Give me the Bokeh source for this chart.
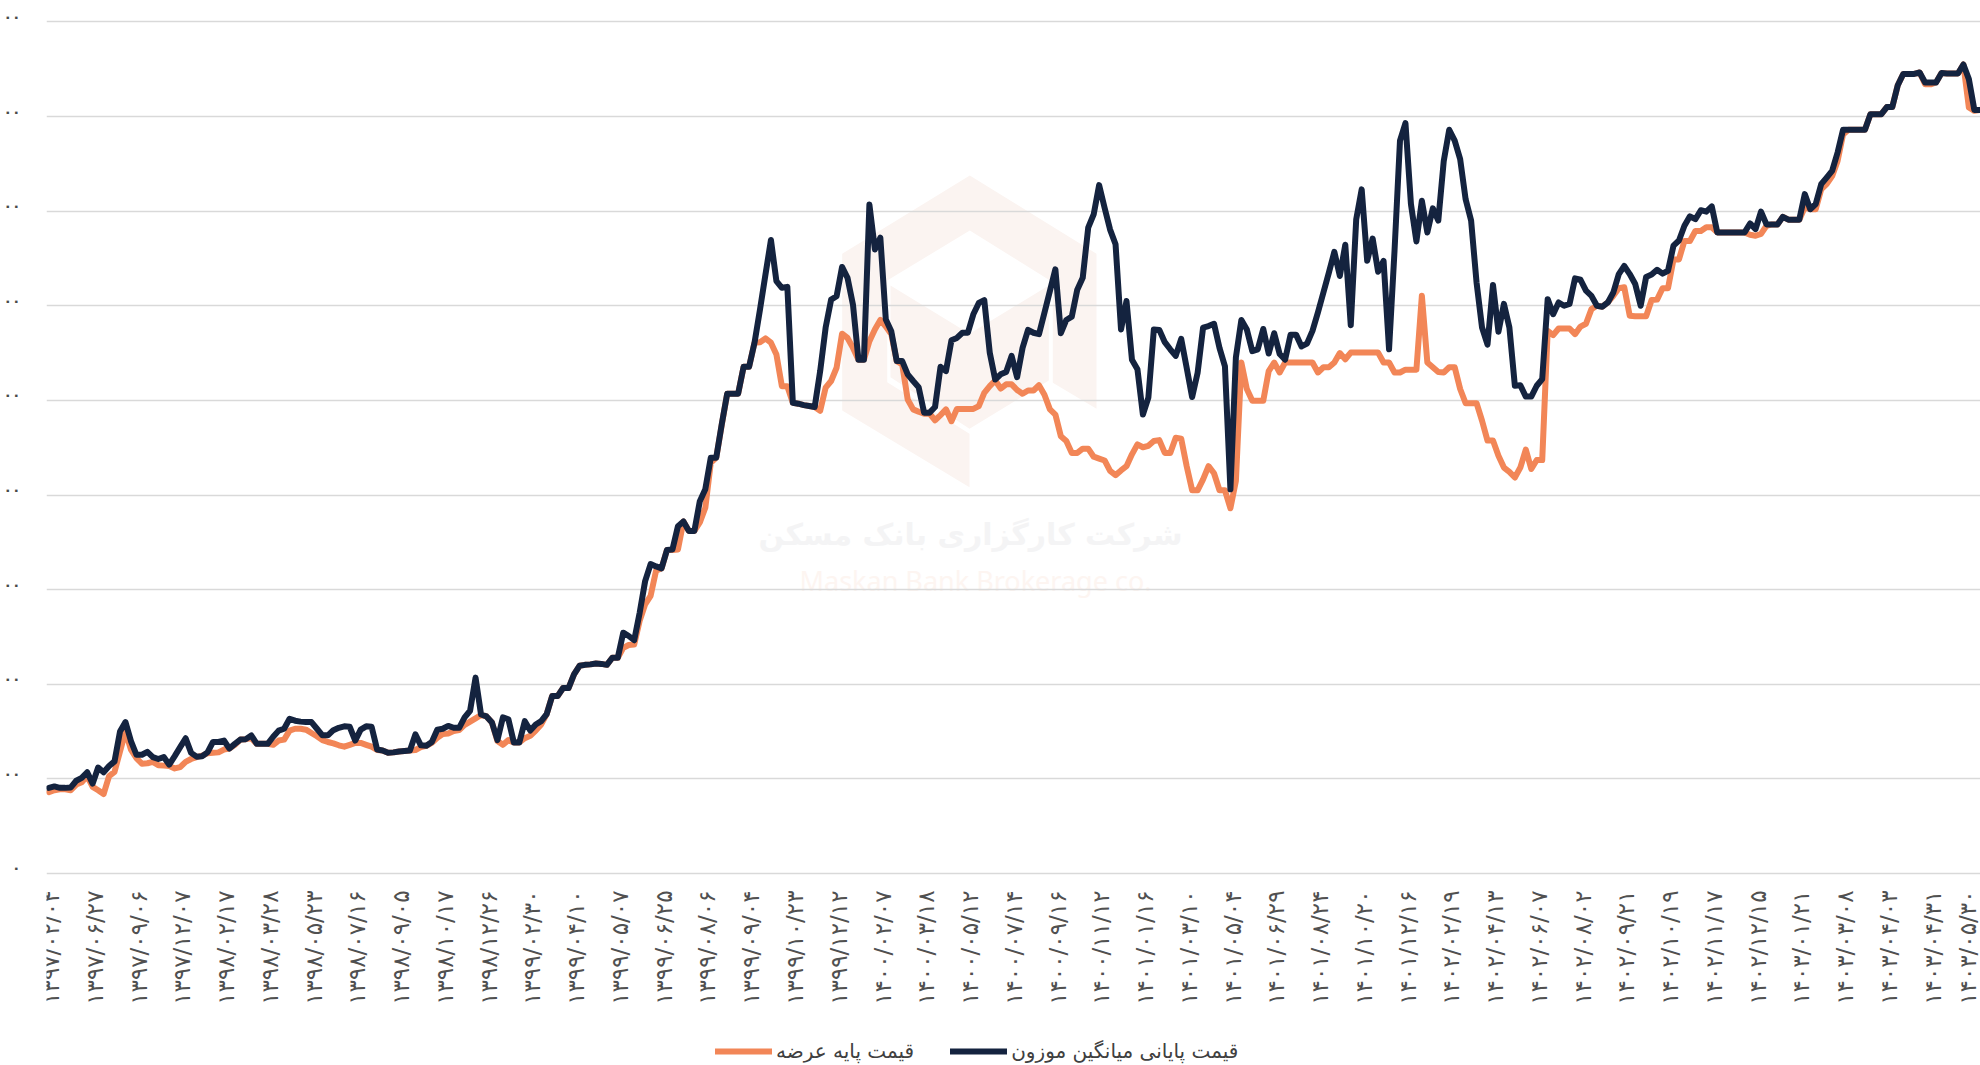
import math
from bokeh.plotting import figure
from bokeh.models import Range1d, FixedTicker, Legend, LegendItem
from bokeh.core.properties import value
from bokeh.embed import file_html
from bokeh.resources import INLINE

date_labels = ["۱۳۹۷/۰۲/۰۴","۱۳۹۷/۰۶/۲۷","۱۳۹۷/۰۹/۰۶","۱۳۹۷/۱۲/۰۷","۱۳۹۸/۰۲/۱۷","۱۳۹۸/۰۳/۲۸","۱۳۹۸/۰۵/۲۳","۱۳۹۸/۰۷/۱۶","۱۳۹۸/۰۹/۰۵","۱۳۹۸/۱۰/۱۷","۱۳۹۸/۱۲/۲۶","۱۳۹۹/۰۲/۳۰","۱۳۹۹/۰۴/۱۰","۱۳۹۹/۰۵/۰۷","۱۳۹۹/۰۶/۲۵","۱۳۹۹/۰۸/۰۶","۱۳۹۹/۰۹/۰۴","۱۳۹۹/۱۰/۲۳","۱۳۹۹/۱۲/۱۲","۱۴۰۰/۰۲/۰۷","۱۴۰۰/۰۳/۱۸","۱۴۰۰/۰۵/۱۲","۱۴۰۰/۰۷/۱۴","۱۴۰۰/۰۹/۱۶","۱۴۰۰/۱۱/۱۲","۱۴۰۱/۰۱/۱۶","۱۴۰۱/۰۳/۱۰","۱۴۰۱/۰۵/۰۴","۱۴۰۱/۰۶/۲۹","۱۴۰۱/۰۸/۲۴","۱۴۰۱/۱۰/۲۰","۱۴۰۱/۱۲/۱۶","۱۴۰۲/۰۲/۱۹","۱۴۰۲/۰۴/۱۳","۱۴۰۲/۰۶/۰۷","۱۴۰۲/۰۸/۰۲","۱۴۰۲/۰۹/۲۱","۱۴۰۲/۱۰/۱۹","۱۴۰۲/۱۱/۱۷","۱۴۰۲/۱۲/۱۵","۱۴۰۳/۰۱/۲۱","۱۴۰۳/۰۳/۰۸","۱۴۰۳/۰۴/۰۳","۱۴۰۳/۰۴/۳۱","۱۴۰۳/۰۵/۳۰"]

close_price = [
90.5,92,90.5,90.5,91,98,101,107,95,112,
107,113.5,118.5,150,160,140,125.5,125.5,128.5,123,
121,123,115,124,133.5,143,127.5,123.5,124,128,
139,139,140.5,132,137,141.5,142,146,137,137,
137,144.5,151,153,163.5,161.5,160.5,160,160,153,
146,146,151.5,154,155.5,155,140.5,152,155.5,155,
131,130,127.5,128,129,129.5,130,147,135.5,135,
139,152,153,156,154,154,165,172,207,168,
166,159.5,141,165,163,138.5,138.5,161,151,157.5,
161,168.5,187.5,187.5,196,196,210.5,219.5,220.5,221,
222,221.5,220.5,228,228,254.5,251,246.5,275.5,309,
327,324.5,322.5,342,342.5,367,372,362,362,393.5,
406,439.5,439.5,474.5,507,507,507,535.5,535.5,561,
596,633,669.5,626,619,620,497.5,496.5,495,494,
493,531,577,606.5,610,641,629.5,601,543,543,
707,659.5,672,585.5,573,541.5,541.5,527.5,520.5,514,
487,487,493,535.5,531,563.5,566,571.5,571.5,591,
603,606,550.5,522,527.5,530,547,524.5,555.5,574.5,
571.5,570,592.5,615.5,638.5,571,585,588.5,617,629.5,
682.5,696.5,727.5,703.5,680.5,665,575,605,543,533,
485,503,575,574.5,561.5,554,547,565,534.5,503.5,
529,577,578.5,581,555.5,536,406,545.5,585,575,
552,554,575.5,549.5,571,549,543,569.5,569.5,557,
560,573.5,593,614,635,657,631.5,664.5,579.5,691.5,
723,647.5,671,636,647.5,554,658,774.5,793,707.5,
668,711,677.5,703,690,753,786,774.5,755,712.5,
690,624.5,577,559,622,572.5,602,577,515.5,516,
504,504,515.5,522.5,607,591,603.5,600,602,629,
627.5,616,610.5,600,599,603.5,614,633.5,642,633.5,
623,600,630.5,633,638,634,637,663.5,669,684.5,
694.5,691.5,701,699.5,705,677.5,677.5,677.5,677.5,677.5,
677.5,687,681,699.5,686,686,686,694,691,691,
691,718,702,707.5,728.5,735.5,742.5,762,786,786,
786,786,786,802.5,802.5,802.5,810,810,833,845,
845,845,846.5,836,836,836,846,845.5,845.5,845.5,
855,839.5,807,807]

base_price = [
86,88,89,89,88,94,96.5,103,91.5,88,
84,103,107.5,129,150,131,122,116,116.5,118,
114.5,114,113.5,111,112.5,118,121,123,124.5,127,
127.5,128,131,132,136,141.5,142,143,137,137,
137,136,140.5,141.5,151,153,153,152,148.5,145,
141,139,137.5,135.5,134,136,138,138,136,134,
130.5,130,127.5,128,129,129.5,130,130.5,133.5,135,
138,143.5,147.5,148,150.5,151.5,157,160.5,164,167.5,
166,159.5,140,136,141,138.5,138.5,143,145.5,151,
157.5,168.5,187.5,187.5,196,196,210.5,219.5,220.5,221,
222,221.5,220.5,228,228,238.5,241.5,242,267,284.5,
293.5,320,322.5,342,342,342.5,372,362,362,371,
386.5,434,439.5,474,507,507,507,535.5,535.5,561,
561.5,565.5,561,548.5,515,515,497.5,496.5,495,494,
493,489,513.5,520.5,534.5,570.5,566,555.5,543,543,
562.5,575,585,578,570,541.5,538,501,490.5,488,
486,486,479,484.5,490.5,478,491,491,491,491,
494,508,515,521,512.5,517,517,511,507,510.5,
510.5,516,506,490.5,485,462,457,444.5,444.5,449,
449,440.5,438.5,436.5,425.5,421,426,430.5,443,453.5,
450.5,452,457,458,444.5,444.5,460.5,459.5,430.5,405,
405,416.5,430.5,423,405,405,386,415,540,512,
499.5,499.5,499.5,531,540,529.5,540,540,540,540,
540,540,529.5,535,535,540,550,543.5,550.5,550.5,
550.5,550.5,550.5,550.5,540,540,529.5,529.5,532.5,532.5,
532.5,610.5,540,535,530,529.5,535,535,512,497,
497,497,478.5,457.5,457.5,441.5,429,424.5,418.5,429,
448,427.5,437,437,573.5,569,576,576,576,570,
578,581,596.5,600,599,603.5,610.5,618.5,619.5,589.5,
589,589,589,606,606.5,618.5,618.5,649,649,668.5,
668.5,679,679,683,683,677.5,677.5,677.5,677.5,677.5,
677.5,675,674,676,684.5,686,686,694,691,691,
691,704,702,702,723,728.5,737,753,781,786,
786,786,786,802.5,802.5,802.5,810,810,833,845,
845,845,846.5,834,834,836,846,845.5,845.5,845.5,
855,809.5,806,807]

y_ticks = [0,100,200,300,400,500,600,700,800,900]
y_labels = ["۰","۰۰","۰۰","۰۰","۰۰","۰۰","۰۰","۰۰","۰۰","۰۰"]
series_names = ["قیمت پایه عرضه", "قیمت پایانی میانگین موزون"]
NAVY = "#14233F"
ORANGE = "#F28657"
FONT = "DejaVu Sans"

FRAME_L, FRAME_B, PAGE_H = 46, 873, 1065
def X(px): return (px - 48.4) / 5.47
def Y(py): return (FRAME_B - py) * 900 / 851.6

idx = list(range(len(close_price)))

p = figure(width=1980, height=PAGE_H, output_backend="svg", toolbar_location=None,
           x_range=Range1d(X(FRAME_L), X(1980)), y_range=Range1d(Y(PAGE_H), Y(0)),
           min_border_left=FRAME_L, min_border_right=0, min_border_top=0,
           min_border_bottom=0, outline_line_color=None,
           margin=(0, 0, 0, 0), background_fill_color="white", border_fill_color="white")

wm_outer = [(969.3,175),(1096,253.3),(1096,408.3),(1052.3,382.3),(1052.3,281.7),(969.3,230),(886.7,280),(886.7,381.7),(969,433.3),(969,486.7),(841.7,410),(841.7,253.3)]
wm_inner = [(890,285),(969,333.3),(1048.3,285),(1048.3,380),(969,428.3),(890,376.7)]
for poly in (wm_outer, wm_inner):
    p.patch([X(a) for a, _ in poly], [Y(b) for _, b in poly], fill_color="#FBF4F1",
            line_color=None, level="image")
p.text([X(970)], [Y(534)], text=["شرکت کارگزاری بانک مسکن"], text_font=value(FONT), text_font_style="bold",
       text_font_size="30px", text_color="#F4F4F5", text_align="center", text_baseline="middle", level="image")
p.text([X(975)], [Y(580)], text=["Maskan Bank Brokerage co."], text_font=value("Noto Sans"),
       text_font_size="27px", text_color="#FDF5F1", text_align="center", text_baseline="middle", level="image")

r_base = p.line(idx, base_price, line_color=ORANGE, line_width=6, line_join="round", line_cap="round")
r_close = p.line(idx, close_price, line_color=NAVY, line_width=6, line_join="round", line_cap="round")

p.xgrid.visible = False
p.ygrid.ticker = FixedTicker(ticks=y_ticks)
p.ygrid.grid_line_color = "#D9D9D9"
p.ygrid.grid_line_width = 1.5

label_ticks = [round(t + 5.3, 1) for t in y_ticks]
ya = p.yaxis[0]
ya.ticker = FixedTicker(ticks=label_ticks)
ya.major_label_overrides = dict(zip(label_ticks, y_labels))
ya.axis_line_color = None
ya.major_tick_line_color = None
ya.minor_tick_line_color = None
ya.major_tick_out = 0
ya.major_label_standoff = 26
ya.major_label_text_font = FONT
ya.major_label_text_font_style = "bold"
ya.major_label_text_font_size = "14px"
ya.major_label_text_color = "#4A4A4A"

xa = p.xaxis[0]
x_ticks = [round(i * 8 + 0.4, 1) for i in range(len(date_labels))]
xa.ticker = FixedTicker(ticks=x_ticks)
xa.major_label_overrides = dict(zip(x_ticks, date_labels))
xa.major_label_orientation = math.pi / 2
xa.fixed_location = 0
xa.axis_line_color = None
xa.major_tick_line_color = None
xa.minor_tick_line_color = None
xa.major_tick_out = 0
xa.major_label_standoff = 17
xa.major_label_text_font = FONT
xa.major_label_text_font_size = "23px"
xa.major_label_text_color = "#505050"

legend = Legend(items=[LegendItem(label=series_names[0], renderers=[r_base]),
                       LegendItem(label=series_names[1], renderers=[r_close])],
                orientation="horizontal", location=(669, 2),
                glyph_width=57, glyph_height=20, label_standoff=4, spacing=36,
                padding=2, margin=0, border_line_color=None, background_fill_alpha=0,
                label_text_font=FONT, label_text_font_size="20px", label_text_color="#404040")
p.add_layout(legend)

open("out.html", "w").write(file_html(p, INLINE))
